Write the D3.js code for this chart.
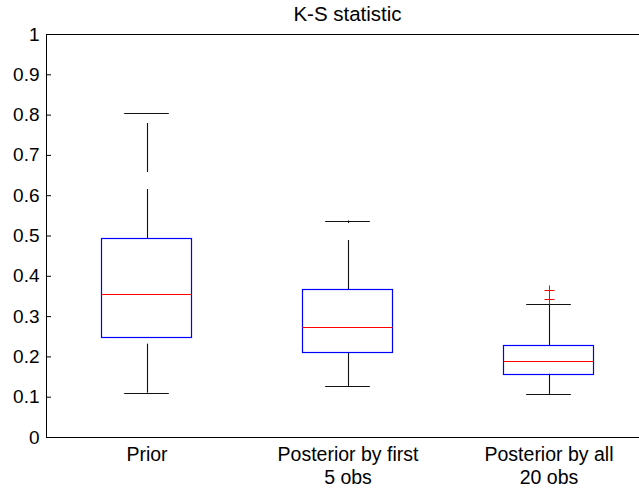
<!DOCTYPE html>
<html>
<head>
<meta charset="utf-8">
<script src="https://cdn.jsdelivr.net/npm/d3@7"></script>
<style>
  html, body { margin: 0; padding: 0; background: #fff; }
  svg { display: block; font-family: "Liberation Sans", Arial, Helvetica, sans-serif; }
</style>
</head>
<body>
<svg id="chart" width="639" height="488"></svg>
<script>
// Box-plot summaries of the K-S statistic for each group
const categories = [
  ["Prior"],
  ["Posterior by first", "5 obs"],
  ["Posterior by all", "20 obs"]
];
const lowerWhisker = [0.110, 0.126, 0.107];
const q1           = [0.248, 0.210, 0.157];
const medians      = [0.355, 0.274, 0.189];
const q3           = [0.494, 0.367, 0.228];
const upperWhisker = [0.803, 0.537, 0.330];
const outliers     = [[], [], [0.342, 0.364]];
const yTicks = [0, 0.1, 0.2, 0.3, 0.4, 0.5, 0.6, 0.7, 0.8, 0.9, 1];
const yTickLabels = ["0", "0.1", "0.2", "0.3", "0.4", "0.5", "0.6", "0.7", "0.8", "0.9", "1"];
const titleText = "K-S statistic";

const svg = d3.select("#chart");
const W = 639;

// Group positions run 1..n; the axes span [0.5, n + 0.5]
const x = d3.scaleLinear().domain([0.5, categories.length + 0.5]).range([46, 649]);
const y = d3.scaleLinear().domain([0, 1]).range([437, 34]);

const boxHalf = 0.224;     // half box width, in group units
const capHalf = 0.111;     // half whisker-cap width
const tickFont = 19;
const labelFont = 19.5;

const groups = categories.map((c, i) => ({
  pos: i + 1, lo: lowerWhisker[i], q1: q1[i], med: medians[i],
  q3: q3[i], hi: upperWhisker[i], out: outliers[i]
}));

// Top border of the axes box
svg.append("line")
  .attr("x1", x(0.5)).attr("x2", W + 20)
  .attr("y1", y(1) + 0.5).attr("y2", y(1) + 0.5)
  .attr("stroke", "#000").attr("stroke-width", 1);

// Y axis: ticks point inward
const yAxis = svg.append("g")
  .attr("transform", `translate(${x(0.5)},0)`)
  .call(d3.axisLeft(y).tickValues(yTicks)
    .tickFormat((d, i) => yTickLabels[i])
    .tickSizeInner(-5).tickSizeOuter(0).tickPadding(6.5));
yAxis.select(".domain").attr("stroke", "#000");
yAxis.selectAll(".tick line").attr("stroke", "#000");
yAxis.selectAll("text")
  .attr("font-family", "'Liberation Sans', Arial, sans-serif")
  .attr("font-size", tickFont).attr("fill", "#000");

// X axis: category labels, no tick marks
const xAxis = svg.append("g")
  .attr("transform", `translate(0,${y(0)})`)
  .call(d3.axisBottom(x).tickValues(groups.map(g => g.pos))
    .tickSize(0).tickFormat(""));
xAxis.select(".domain").attr("stroke", "#000")
  .attr("d", `M${x(0.5)},0.5H${W + 20}`);
xAxis.selectAll(".tick").each(function(d, i) {
  const t = d3.select(this).append("text")
    .attr("fill", "#000")
    .attr("font-family", "'Liberation Sans', Arial, sans-serif")
    .attr("font-size", labelFont)
    .attr("text-anchor", "middle");
  categories[i].forEach((line, k) => {
    t.append("tspan").attr("x", 0).attr("y", 23.5 + k * 23).text(line);
  });
});

const plot = svg.append("g");

// Whiskers are dashed; each run starts from its lower end
const whisk = plot.selectAll(".whisk").data(groups).join("g");
whisk.append("line")
  .attr("x1", d => Math.round(x(d.pos)) + 0.5).attr("x2", d => Math.round(x(d.pos)) + 0.5)
  .attr("y1", d => y(d.q3)).attr("y2", d => y(d.hi))
  .attr("stroke", "#111").attr("stroke-width", 1.1).attr("stroke-dasharray", "49,17");
whisk.append("line")
  .attr("x1", d => Math.round(x(d.pos)) + 0.5).attr("x2", d => Math.round(x(d.pos)) + 0.5)
  .attr("y1", d => y(d.lo)).attr("y2", d => y(d.q1))
  .attr("stroke", "#111").attr("stroke-width", 1.1).attr("stroke-dasharray", "49,17");
// Whisker caps
["hi", "lo"].forEach(k => {
  whisk.append("line")
    .attr("x1", d => x(d.pos - capHalf)).attr("x2", d => x(d.pos + capHalf))
    .attr("y1", d => Math.round(y(d[k])) + 0.5).attr("y2", d => Math.round(y(d[k])) + 0.5)
    .attr("stroke", "#111").attr("stroke-width", 1.1);
});

// Interquartile boxes
plot.selectAll(".box").data(groups).join("rect")
  .attr("x", d => Math.round(x(d.pos - boxHalf)) + 0.5)
  .attr("y", d => Math.round(y(d.q3)) + 0.5)
  .attr("width", d => Math.round(x(d.pos + boxHalf) - x(d.pos - boxHalf)))
  .attr("height", d => Math.round(y(d.q1)) - Math.round(y(d.q3)))
  .attr("fill", "none").attr("stroke", "#0000ff").attr("stroke-width", 1.2);

// Medians
plot.selectAll(".med").data(groups).join("line")
  .attr("x1", d => x(d.pos - boxHalf)).attr("x2", d => x(d.pos + boxHalf))
  .attr("y1", d => Math.round(y(d.med)) + 0.5).attr("y2", d => Math.round(y(d.med)) + 0.5)
  .attr("stroke", "#ff0000").attr("stroke-width", 1.1);

// Outliers as red plus signs
const outPts = groups.flatMap(g => g.out.map(v => ({ pos: g.pos, v })));
plot.selectAll(".out").data(outPts).join("path")
  .attr("transform", d => `translate(${Math.round(x(d.pos)) + 0.5},${Math.round(y(d.v)) + 0.5})`)
  .attr("d", "M-5,0H5M0,-5V5")
  .attr("fill", "none").attr("stroke", "#ff0000").attr("stroke-width", 1);

// Title
svg.append("text")
  .attr("x", x((categories.length + 1) / 2)).attr("y", 21)
  .attr("text-anchor", "middle")
  .attr("font-size", 20.5).attr("fill", "#000")
  .text(titleText);
</script>
</body>
</html>
